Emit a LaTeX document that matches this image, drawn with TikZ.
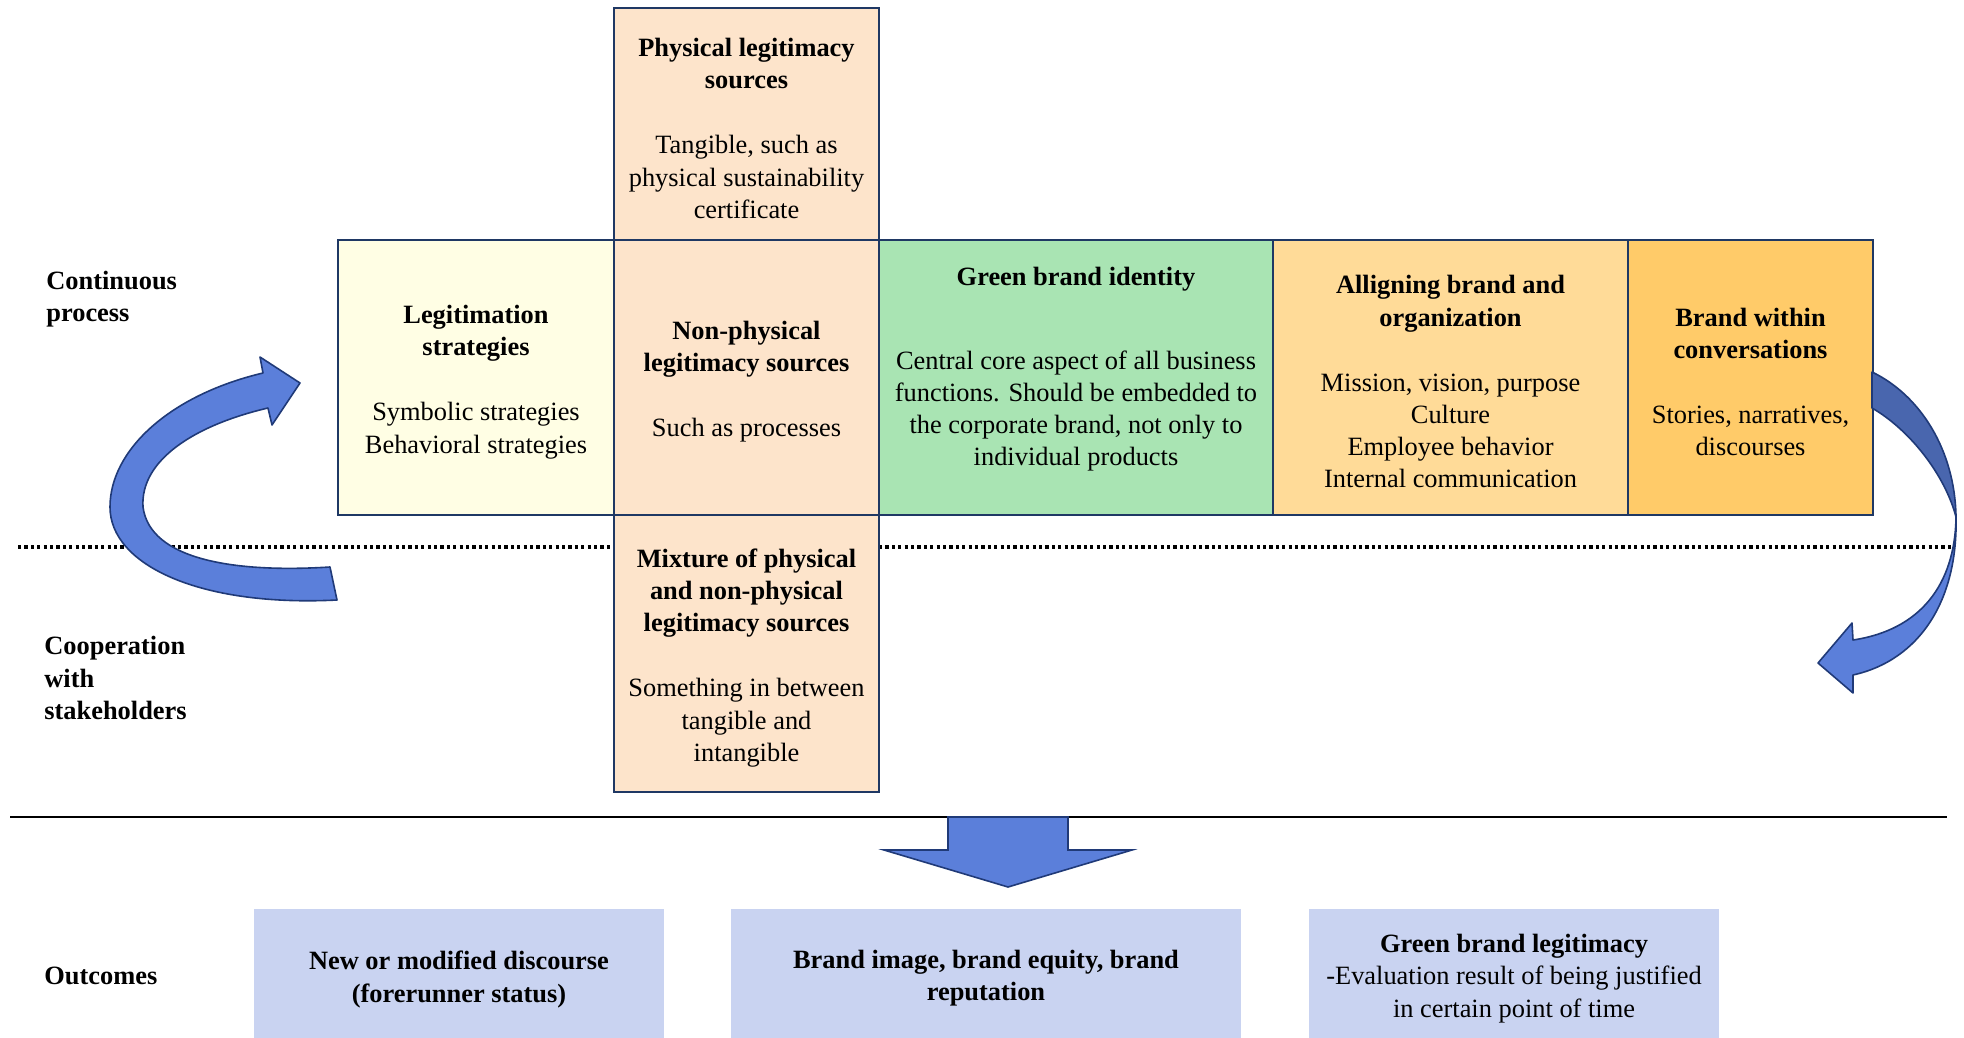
\documentclass[tikz,border=0pt]{standalone}
\usepackage{fontspec}
\setmainfont{Liberation Serif}
\definecolor{bordc}{HTML}{1F3864}
\definecolor{legitc}{HTML}{FFFEE4}
\definecolor{peachc}{HTML}{FDE4CB}
\definecolor{greenc}{HTML}{A9E4B3}
\definecolor{allignc}{HTML}{FFDB98}
\definecolor{brandc}{HTML}{FFCB69}
\definecolor{outc}{HTML}{C9D3F1}
\definecolor{arrowc}{HTML}{5B7FDA}
\definecolor{arrowdk}{HTML}{4966AE}
\definecolor{arrowbd}{HTML}{203A78}
\begin{document}
\begin{tikzpicture}[x=0.5pt,y=-0.5pt,
  txtfont/.style={font=\fontsize{13.2pt}{16.1pt}\selectfont},
  box/.style={draw=bordc, line width=1pt, inner sep=0pt},
  boxtxt/.style={inner sep=0pt, align=center, txtfont},
  outbox/.style={fill=outc, inner sep=0pt, minimum height=64.5pt},
  lbl/.style={anchor=west, inner sep=0pt, align=left, txtfont},
  blockarrow/.style={fill=arrowc, draw=arrowbd, line width=0.8pt, line join=round},
  blockarrowdk/.style={fill=arrowdk, draw=arrowbd, line width=0.8pt, line join=round}
]
\useasboundingbox (0,0) rectangle (1964,1038);

% separator lines
\draw[line width=1.6pt, dash pattern=on 1.6pt off 1.6pt] (18,547) -- (614,547);
\draw[line width=1.6pt, dash pattern=on 1.6pt off 1.6pt] (879,547) -- (1952,547);
\draw[line width=1.1pt] (10,817) -- (1947,817);

% boxes
\node[box, fill=peachc, minimum width=132.5pt, minimum height=116pt] (phys) at (746.5,124) {};
\node[box, fill=legitc, minimum width=138pt, minimum height=137.5pt] (legit) at (476,377.5) {};
\node[box, fill=peachc, minimum width=132.5pt, minimum height=137.5pt] (nonphys) at (746.5,377.5) {};
\node[box, fill=greenc, minimum width=197pt, minimum height=137.5pt] (green) at (1076,377.5) {};
\node[box, fill=allignc, minimum width=177.5pt, minimum height=137.5pt] (allign) at (1450.5,377.5) {};
\node[box, fill=brandc, minimum width=122.5pt, minimum height=137.5pt] (brandw) at (1750.5,377.5) {};
\node[box, fill=peachc, minimum width=132.5pt, minimum height=138.5pt] (mixture) at (746.5,653.5) {};

% box texts
\node[boxtxt] (physt) at ([yshift=-2.2pt]phys.center)
  {\textbf{Physical legitimacy}\\\textbf{sources}\\[16.5pt]Tangible, such as\\physical sustainability\\certificate};
\node[boxtxt] (legitt) at ([yshift=-2.2pt]legit.center)
  {\textbf{Legitimation}\\\textbf{strategies}\\[16.5pt]Symbolic strategies\\Behavioral strategies};
\node[boxtxt] (nonphyst) at ([yshift=-2.2pt]nonphys.center)
  {\textbf{Non-physical}\\\textbf{legitimacy sources}\\[16.5pt]Such as processes};
\node[boxtxt] (greent) at (1076,369.5)
  {\textbf{Green brand identity}\\[25.5pt]Central core aspect of all business\\functions. Should be embedded to\\the corporate brand, not only to\\individual products};
\node[boxtxt] (allignt) at ([yshift=-2.2pt]allign.center)
  {\textbf{Alligning brand and}\\\textbf{organization}\\[16.5pt]Mission, vision, purpose\\Culture\\Employee behavior\\Internal communication};
\node[boxtxt] (brandwt) at ([yshift=-2.2pt]brandw.center)
  {\textbf{Brand within}\\\textbf{conversations}\\[16.5pt]Stories, narratives,\\discourses};
\node[boxtxt] (mixturet) at ([yshift=-2.2pt]mixture.center)
  {\textbf{Mixture of physical}\\\textbf{and non-physical}\\\textbf{legitimacy sources}\\[16.5pt]Something in between\\tangible and\\intangible};

% side labels
\node[lbl] (lcont) at (46,299.5) {\textbf{Continuous}\\\textbf{process}};
\node[lbl] (lcoop) at (44,678) {\textbf{Cooperation}\\\textbf{with}\\\textbf{stakeholders}};
\node[lbl] (lout) at (44,976) {\textbf{Outcomes}};

% outcomes
\node[outbox, minimum width=205pt] (out1) at (459,973.5) {};
\node[outbox, minimum width=255pt] (out2) at (986,973.5) {};
\node[outbox, minimum width=205pt] (out3) at (1514,973.5) {};
\node[boxtxt] (out1t) at ([yshift=-3pt]out1.center)
  {\textbf{New or modified discourse}\\\textbf{(forerunner status)}};
\node[boxtxt] (out2t) at ([yshift=-2.5pt]out2.center)
  {\textbf{Brand image, brand equity, brand}\\\textbf{reputation}};
\node[boxtxt] (out3t) at ([yshift=-2.5pt]out3.center)
  {\textbf{Green brand legitimacy}\\-Evaluation result of being justified\\in certain point of time};

% down block arrow
\draw[blockarrow, line join=miter] (948,817) -- (1068,817) -- (1068,850) -- (1132,850) -- (1008,887) -- (884,850) -- (948,850) -- cycle;

% left curved arrow
\draw[blockarrow] (330,567) .. controls (235,573) and (150,560) .. (143,507)
  .. controls (140,460) and (195,425) .. (268,408)
  -- (272,425) -- (300,383) -- (260,357) -- (263,373)
  .. controls (170,395) and (110,450) .. (110,507)
  .. controls (110,565) and (200,607) .. (337,600) -- cycle;

% right curved arrow
\draw[blockarrowdk] (1872,372) .. controls (1920,395) and (1955,450) .. (1956,517)
  .. controls (1945,475) and (1910,430) .. (1872,408) -- cycle;
\draw[blockarrow] (1956,517) .. controls (1958,600) and (1920,660) .. (1853,675)
  -- (1853,693) -- (1818,663) -- (1852,623) -- (1853,640)
  .. controls (1920,630) and (1955,585) .. (1956,517) -- cycle;
\end{tikzpicture}
\end{document}
